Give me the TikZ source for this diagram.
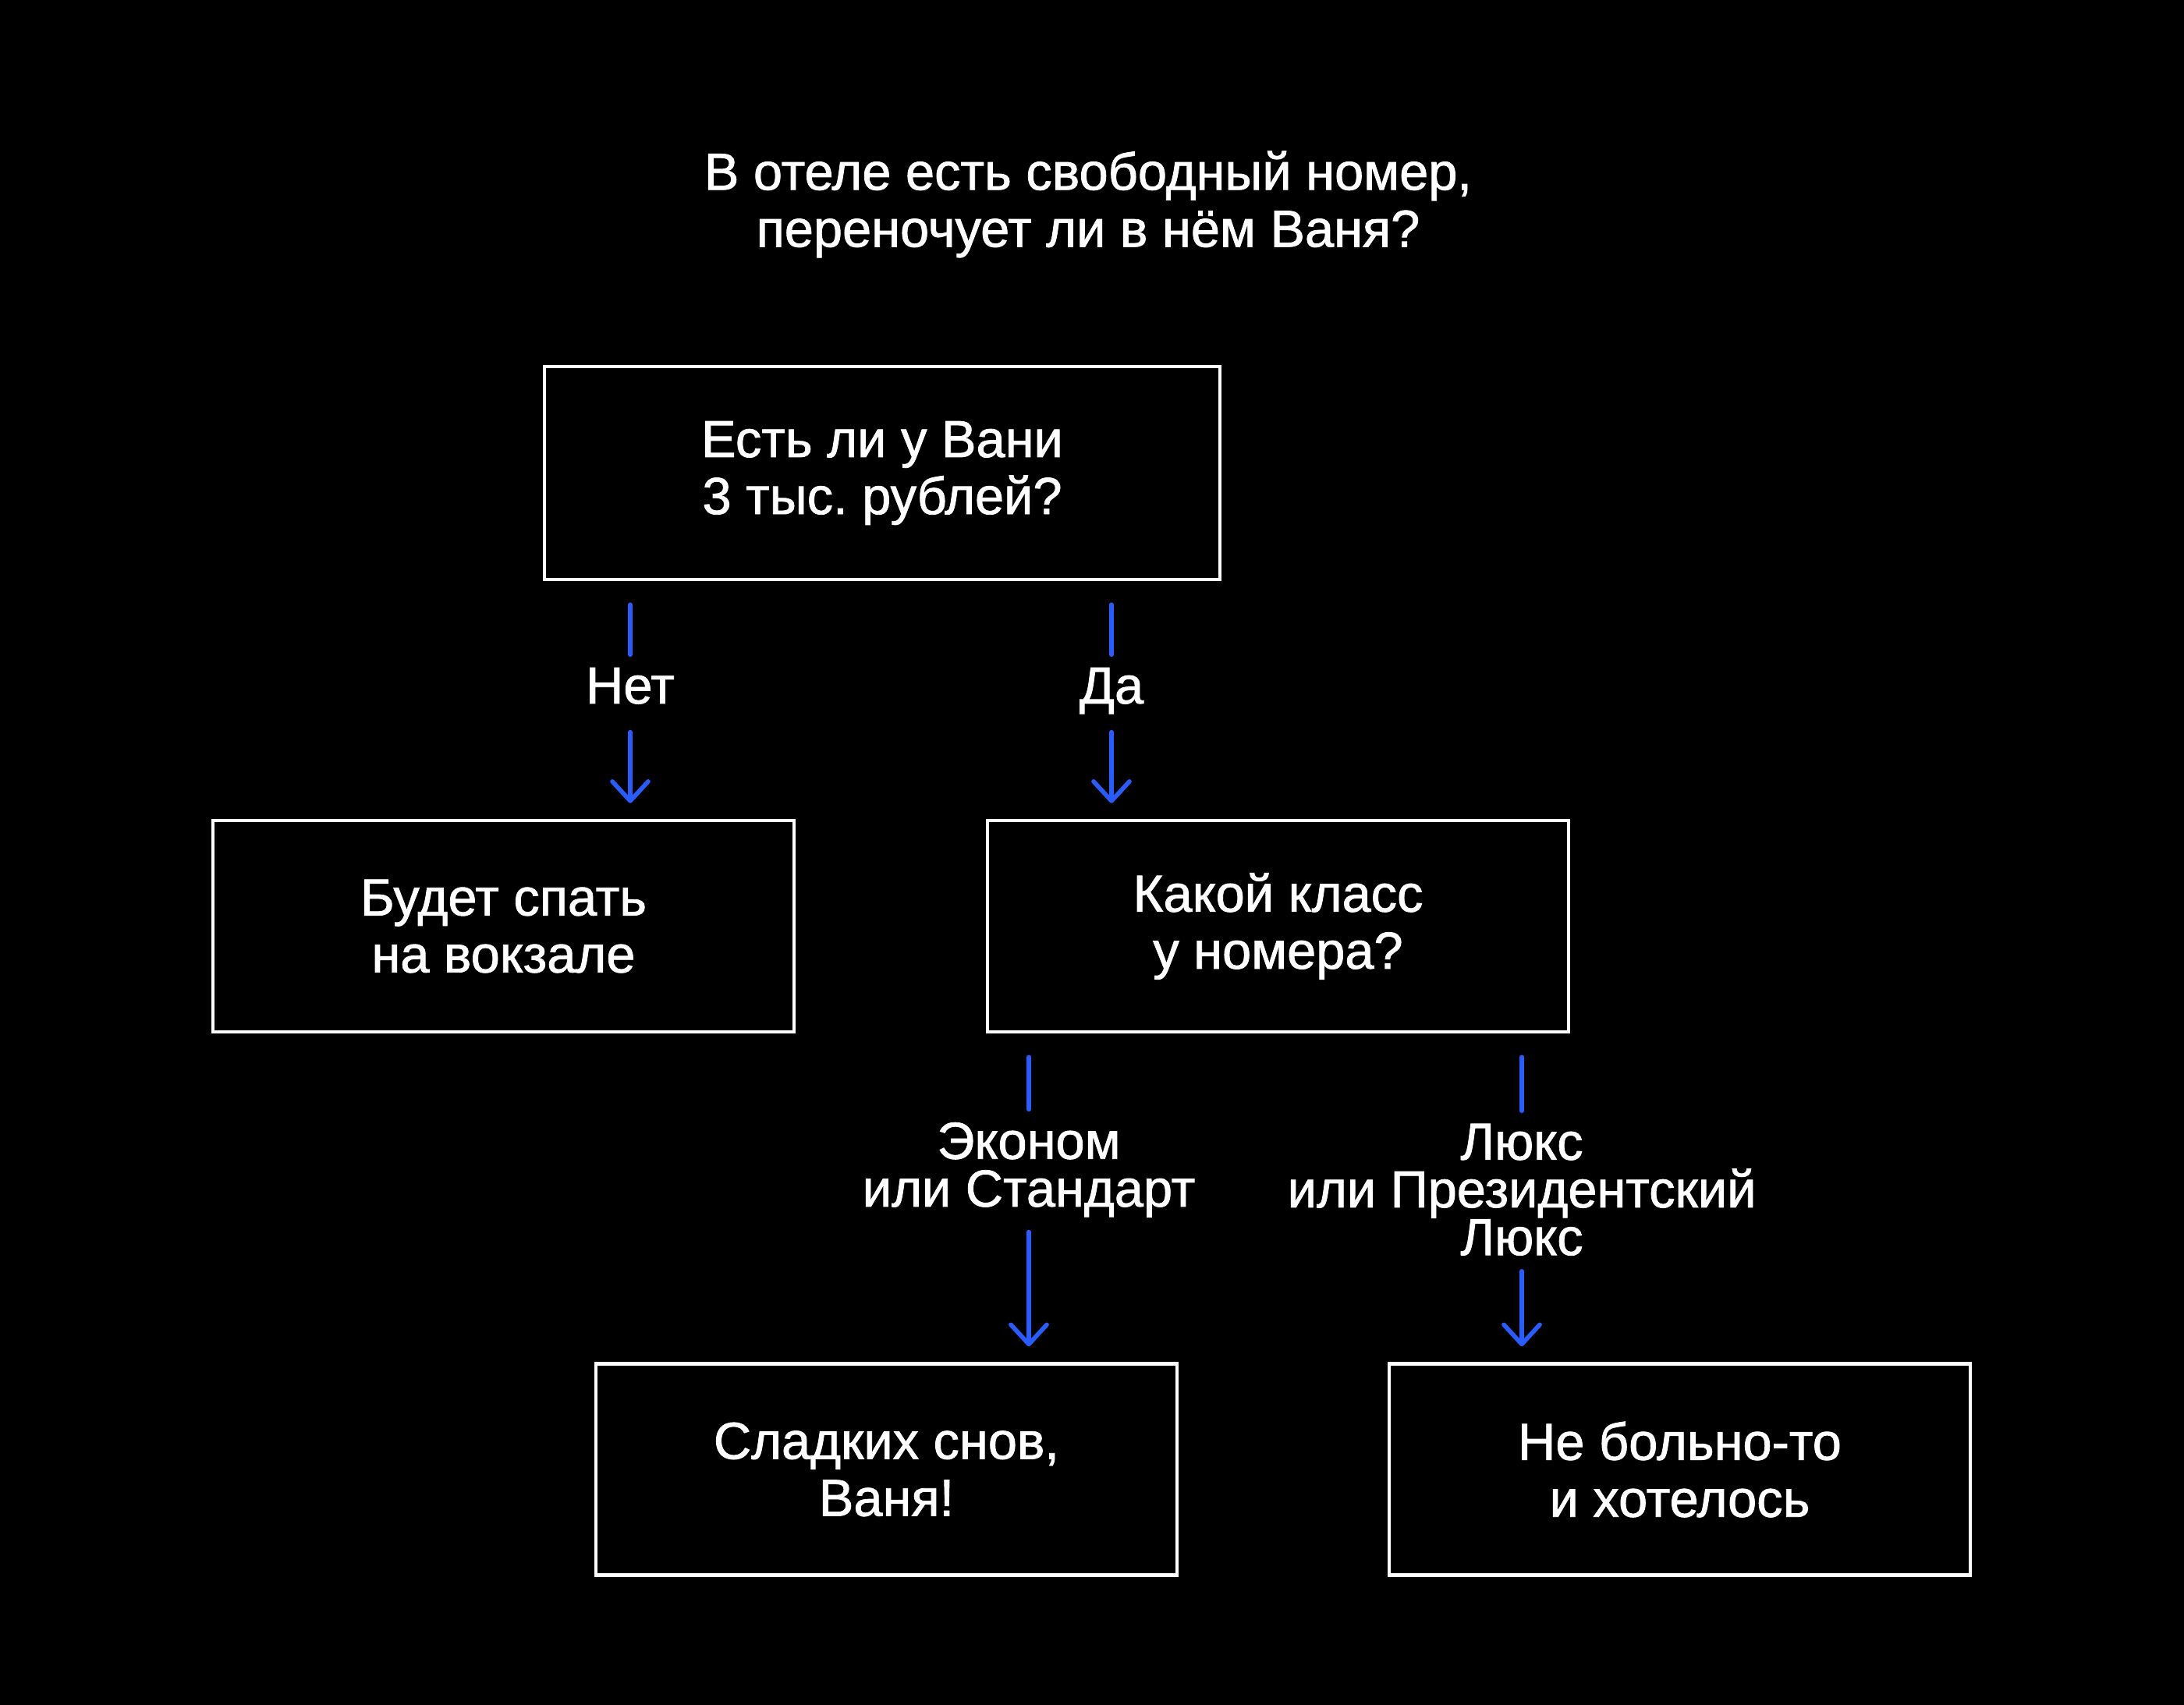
\documentclass[tikz,border=0pt]{standalone}
\usepackage{fontspec}
\setmainfont{Liberation Sans}[BoldFont = Liberation Sans, BoldFeatures = {FakeBold = 1.2}]
\usepackage{tikz}
\usetikzlibrary{arrows.meta}
\usetikzlibrary{calc}
\frenchspacing
\definecolor{arrowblue}{RGB}{41,92,255}
\tikzstyle{box} = [draw = white, line width = 1.3pt, text = white, align = center, font = \fontsize{19}{20.8}\selectfont\bfseries, inner sep = 0]
\tikzstyle{wide box} = [box, minimum width = 8.66cm, minimum height = 2.73cm]
\tikzstyle{narrow box} = [box, minimum width = 7.45cm, minimum height = 2.71cm]
\tikzstyle{answer} = [text = white, align = center, font = \fontsize{19}{17.4}\selectfont\bfseries, inner sep = 0, text depth = 0pt]
\tikzstyle{link} = [arrowblue, line width = 1.6pt, line cap = round]
\tikzstyle{arrow link} = [link, -{Straight Barb[length = 2.5mm, width = 4.6mm, line cap = round, line join = round]}]

\begin{document}
\begin{tikzpicture}
    \fill [black] (0, 0) rectangle (28, -21.86);
    \node [text = white, align = center, font = \fontsize{19}{20.8}\selectfont\bfseries] (title) at (13.95, -2.62) {В отеле есть свободный номер,\\переночует ли в нём Ваня?};
    \node [wide box] (money) at (11.31, -6.065) {Есть ли у Вани\\3 тыс. рублей?};
    \node [narrow box] (station) at (6.455, -11.875) {Будет спать\\на вокзале};
    \node [narrow box] (class) at (16.385, -11.875) {Какой класс\\у номера?};
    \node [narrow box] (sleep) at (11.365, -18.84) {Сладких снов,\\Ваня!};
    \node [narrow box] (nope) at (21.535, -18.84) {Не больно-то\\и хотелось};
    \node [answer] (no) at (8.08, -8.79) {Нет};
    \node [answer] (yes) at (14.25, -8.79) {Да};
    \node [answer] (cheap) at (13.19, -14.93) {Эконом\\или Стандарт};
    \node [answer] (lux) at (19.51, -15.25) {Люкс\\или Президентский\\Люкс};
    \foreach \from/\lbl/\to/\gap in {money/no/station/0.36, money/yes/class/0.36, class/cheap/sleep/0.32, class/lux/nope/0.2}
    {
        \draw [link, shorten <= 0.3cm, shorten >= 0.16cm] (\from.south -| \lbl) -- (\lbl.north);
        \draw [arrow link, shorten <= \gap cm, shorten >= 0.2cm] (\lbl.south) -- (\to.north -| \lbl);
    }
\end{tikzpicture}
\end{document}
